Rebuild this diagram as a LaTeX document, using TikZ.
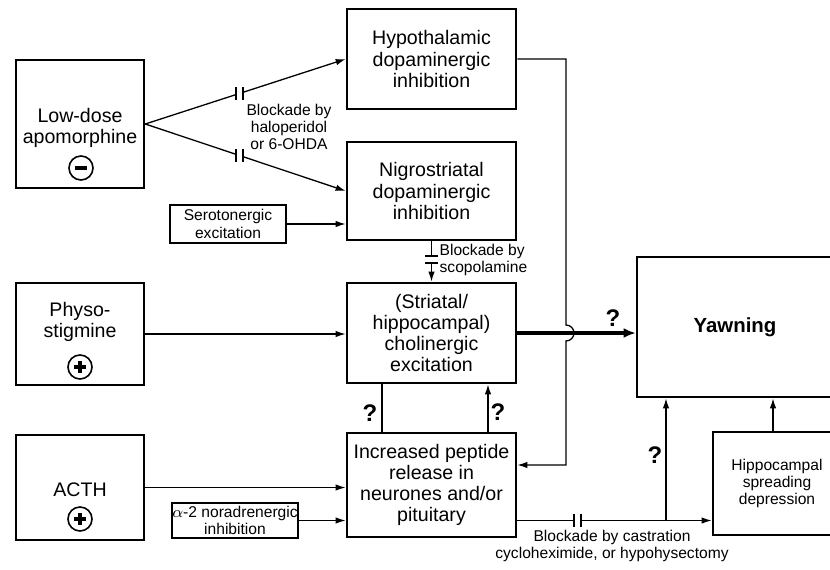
\documentclass[tikz,border=0pt]{standalone}
\usepackage{fontspec}
\setmainfont{Liberation Sans}
\usetikzlibrary{
arrows.meta,
positioning,
calc,
decorations.markings
}

\begin{document}
\begin{tikzpicture}[x=0.5pt, y=-0.5pt, line width=0.65pt,
    box/.style={draw, line width=1.3pt, inner sep=0pt, align=center, font=\fontsize{9.8}{10.6}\selectfont},
    smallbox/.style={draw, line width=0.9pt, inner sep=0pt, align=center, font=\fontsize{7.8}{8.6}\selectfont},
    boxtext/.style={inner sep=0pt, align=center, font=\fontsize{9.8}{10.6}\selectfont},
    small/.style={inner sep=0pt, align=center, font=\fontsize{7.8}{8.6}\selectfont},
    sign/.style={draw, circle, line width=0.8pt, minimum size=12pt, inner sep=0pt},
    quest/.style={inner sep=0pt, font=\fontsize{12}{12}\bfseries\selectfont},
    arr/.style={-{Latex[length=5pt,width=3.2pt]}},
    % two bars across the line, perpendicular to it
    blockade/.style={postaction={decorate}, decoration={markings, mark=at position #1 with {
        \fill[white] (-1.75pt,-1.2pt) rectangle (1.75pt,1.2pt);
        \draw[arrows=-, line width=0.9pt] (-1.75pt,-3.25pt) -- (-1.75pt,3.25pt);
        \draw[arrows=-, line width=0.9pt] (1.75pt,-3.25pt) -- (1.75pt,3.25pt);
    }}},
    % two upright bars on a slanted line
    vblockade/.style={postaction={decorate}, decoration={markings, mark=at position #1 with {
        \pgftransformresetnontranslations
        \fill[white] (-1.75pt,-2pt) rectangle (1.75pt,2pt);
        \draw[arrows=-, line width=0.9pt] (-1.75pt,-3.25pt) -- (-1.75pt,3.25pt);
        \draw[arrows=-, line width=0.9pt] (1.75pt,-3.25pt) -- (1.75pt,3.25pt);
    }}}
]

    \clip (0,0) rectangle (830,569);

    % ==================== LEFT COLUMN ====================
    % Low-dose apomorphine (inhibitory)
    \node [box, minimum width=64pt, minimum height=64pt] (lowdose) at (80,124) {};
    \node [boxtext] (lowdosetxt) at (80,128) {Low-dose\\apomorphine};
    \node [sign] (neg) at (81,168) {};
    \draw [line width=1.6pt] (neg.center) ++(-6,0) -- ++(12,0);

    % Physostigmine (excitatory)
    \node [box, minimum width=64pt, minimum height=51pt] (physo) at (80,334) {};
    \node [boxtext] (physotxt) at (80,322) {Physo-\\stigmine};
    \node [sign] (pos1) at (80,367) {};
    \draw [line width=1.6pt] (pos1.center) ++(-6,0) -- ++(12,0);
    \draw [line width=1.6pt] (pos1.center) ++(0,-6) -- ++(0,12);

    % ACTH (excitatory)
    \node [box, minimum width=64pt, minimum height=52.5pt] (acth) at (80,487.5) {};
    \node [boxtext] (acthtxt) at (80,490) {ACTH};
    \node [sign] (pos2) at (80,519) {};
    \draw [line width=1.6pt] (pos2.center) ++(-6,0) -- ++(12,0);
    \draw [line width=1.6pt] (pos2.center) ++(0,-6) -- ++(0,12);

    % Small side inputs
    \node [smallbox, minimum width=58pt, minimum height=19pt] (sero) at (228,224) {Serotonergic\\excitation};
    \node [smallbox, minimum width=63pt, minimum height=17.5pt] (alpha) at (235,520.5) {$\alpha$-2 noradrenergic\\inhibition};

    % ==================== MIDDLE COLUMN ====================
    \node [box, minimum width=84.5pt, minimum height=50pt] (hypo) at (431.5,59) {Hypothalamic\\dopaminergic\\inhibition};
    \node [box, minimum width=84.5pt, minimum height=49pt] (nigro) at (431.5,191) {Nigrostriatal\\dopaminergic\\inhibition};
    \node [box, minimum width=84.5pt, minimum height=50pt] (chol) at (431.5,333) {(Striatal/\\hippocampal)\\cholinergic\\excitation};
    \node [box, minimum width=84.5pt, minimum height=52pt] (peptide) at (431.5,485) {Increased peptide\\release in\\neurones and/or\\pituitary};

    % ==================== RIGHT COLUMN ====================
    \node [box, minimum width=98pt, minimum height=70pt, font=\fontsize{10.2}{11}\bfseries\selectfont] (yawn) at (735,327) {Yawning};
    \node [box, minimum width=64pt, minimum height=51.5pt, font=\fontsize{7.8}{8.6}\selectfont] (hippo) at (777,483.5) {Hippocampal\\spreading\\depression};

    % ==================== CONNECTIONS ====================
    % 1. Apomorphine to both dopaminergic boxes, blocked
    \draw [arr, vblockade=0.47] (lowdose.east) -- (hypo.west);
    \draw [arr, vblockade=0.47] (lowdose.east) -- (nigro.west);
    \node [small] (halo) at (289,127) {Blockade by\\haloperidol\\or 6-OHDA};

    % 2. Serotonergic input
    \draw [arr] (sero.east) -- (sero.east -| nigro.west);

    % 3. Nigrostriatal down to cholinergic, blocked by scopolamine
    \draw [arr, blockade=0.45] (nigro.south) -- (chol.north);
    \node [small, anchor=west, align=left] (scopo) at (439,260) {Blockade by\\scopolamine};

    % 4. Physostigmine into cholinergic
    \draw [arr] (physo.east) -- (physo.east -| chol.west);

    % 5. Cholinergic to yawning (main path)
    \draw [line width=2.2pt, -{Latex[length=6pt,width=5pt]}] (chol.east) -- (chol.east -| yawn.west);
    \node [quest] (q1) at (613,318) {?};

    % 6. Hypothalamic round to peptide release, hopping over main path
    \coordinate (hop) at (566,333);
    \coordinate (drop) at (566,465);
    \draw [arr] (hypo.east) -| ([yshift=4pt]hop) arc[start angle=90, end angle=-90, radius=4pt] -- (drop) -- (drop -| peptide.east);

    % 7. Peptide and cholinergic boxes
    \draw ([xshift=-24.75pt]peptide.north) -- ([xshift=-24.75pt]chol.south);
    \draw [arr] ([xshift=28.25pt]peptide.north) -- ([xshift=28.25pt]chol.south);
    \node [quest] (q2) at (370,413) {?};
    \node [quest] (q3) at (498,412) {?};

    % 8. ACTH and noradrenergic inputs
    \draw [arr] (acth.east) -- (acth.east -| peptide.west);
    \draw [arr] (alpha.east) -- (alpha.east -| peptide.west);

    % 9. Peptide release to hippocampal spreading depression, blocked
    \coordinate (branch) at (666,520.5);
    \draw [arr, blockade=0.31] (peptide.east |- alpha) -- (hippo.west |- alpha);
    \node [small] (castr) at (612,546) {Blockade by castration\\cycloheximide, or hypohysectomy};

    % 10. Up into yawning
    \draw [arr] (branch) -- (branch |- yawn.south);
    \node [quest] (q4) at (655,455) {?};
    \draw [arr] ([xshift=-2pt]hippo.north) -- ([xshift=-2pt]hippo.north |- yawn.south);

\end{tikzpicture}
\end{document}
